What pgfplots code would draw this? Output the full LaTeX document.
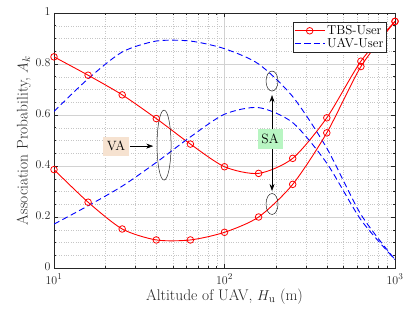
\documentclass[border=0pt]{standalone}
\usepackage{pgfplots}
\pgfplotsset{compat=1.18}
\usetikzlibrary{arrows.meta}
\definecolor{vafill}{RGB}{246,226,208}
\definecolor{safill}{RGB}{184,245,194}
\definecolor{axgray}{RGB}{38,38,38}
\begin{document}
\begin{tikzpicture}
\useasboundingbox (-54bp,-44bp) rectangle (361bp,268bp);
\begin{axis}[
  scale only axis, width=341bp, height=255bp,
  xmode=log, xmin=10, xmax=1000, ymin=0, ymax=1,
  ytick={0,0.2,0.4,0.6,0.8,1}, minor y tick num=3,
  grid=both,
  major grid style={gray!35, line width=0.4pt},
  minor grid style={gray!45, dotted, line width=0.4pt},
  axis line style={axgray, line width=0.6pt},
  tick style={axgray, line width=0.5pt},
  tick align=inside,
  major tick length=4bp, minor tick length=2bp,
  tick label style={font=\fontsize{12.5}{14}\selectfont, text=axgray},
  xticklabel style={yshift=-2.5bp},
  yticklabel style={yshift=1bp},
  label style={font=\fontsize{15.5}{17}\selectfont, text=axgray},
  xlabel style={yshift=2bp},
  ylabel style={yshift=-2bp},
  xlabel={Altitude of UAV, $H_{\mathrm{u}}$ (m)},
  ylabel={Association Probability, $A_k$},
  legend style={at={(1,1)}, anchor=north east, xshift=-8bp, yshift=-9bp,
    font=\fontsize{13}{14}\selectfont, draw=axgray, line width=0.6pt,
    inner sep=1.2pt, row sep=-2pt, cells={anchor=west}},
  legend image code/.code={\draw[mark repeat=2,mark phase=2,#1] plot coordinates {(0bp,0bp) (15bp,0bp) (30bp,0bp)};},
]
\addplot[red, line width=0.9pt, smooth, tension=0.45, mark=o, mark size=3.3bp, mark options={fill=white, solid, line width=0.8pt}]
coordinates {(10,0.828) (15.85,0.756) (25.12,0.679) (39.81,0.586) (63.10,0.486) (100,0.397) (158.5,0.371) (251.2,0.430) (398.1,0.589) (631.0,0.811) (1000,0.967)};
\addlegendentry{TBS-User}
\addplot[blue, line width=0.9pt, smooth, tension=0.45, dash pattern=on 6bp off 3.5bp]
coordinates {(10,0.614) (15.85,0.742) (25.12,0.847) (39.81,0.890) (63.10,0.890) (100,0.860) (158.5,0.800) (251.2,0.672) (398.1,0.470) (631.0,0.210) (1000,0.033)};
\addlegendentry{UAV-User}
\addplot[red, line width=0.9pt, smooth, tension=0.45, mark=o, mark size=3.3bp, mark options={fill=white, solid, line width=0.8pt}, forget plot]
coordinates {(10,0.386) (15.85,0.258) (25.12,0.153) (39.81,0.110) (63.10,0.110) (100,0.140) (158.5,0.200) (251.2,0.328) (398.1,0.530) (631.0,0.790) (1000,0.967)};
\addplot[blue, line width=0.9pt, smooth, tension=0.45, dash pattern=on 6bp off 3.5bp, forget plot]
coordinates {(10,0.172) (15.85,0.244) (25.12,0.321) (39.81,0.414) (63.10,0.514) (100,0.603) (158.5,0.629) (251.2,0.570) (398.1,0.411) (631.0,0.189) (1000,0.033)};
% annotations
\draw[axgray, line width=0.5pt] (axis cs:44.2,0.482) ellipse [x radius=7bp, y radius=35bp];
\draw[axgray, line width=0.5pt] (axis cs:190,0.733) ellipse [x radius=6bp, y radius=10bp];
\draw[axgray, line width=0.5pt] (axis cs:190,0.251) ellipse [x radius=6bp, y radius=10.5bp];
\node[fill=vafill, minimum width=26bp, minimum height=19bp, inner sep=0pt, font=\fontsize{13.5}{14}\selectfont] at (axis cs:23.1,0.478) {VA};
\node[fill=safill, minimum width=25bp, minimum height=20bp, inner sep=0pt, font=\fontsize{13.5}{14}\selectfont] at (axis cs:185,0.506) {SA};
\draw[-{Stealth[length=7bp,width=5bp]}, black, line width=0.5pt] (axis cs:27.9,0.478) -- (axis cs:38.2,0.478);
\draw[-{Stealth[length=7bp,width=5bp]}, black, line width=0.5pt] (axis cs:190,0.545) -- (axis cs:190,0.678);
\draw[-{Stealth[length=7bp,width=5bp]}, black, line width=0.5pt] (axis cs:190,0.467) -- (axis cs:190,0.302);
\end{axis}
\end{tikzpicture}
\end{document}
